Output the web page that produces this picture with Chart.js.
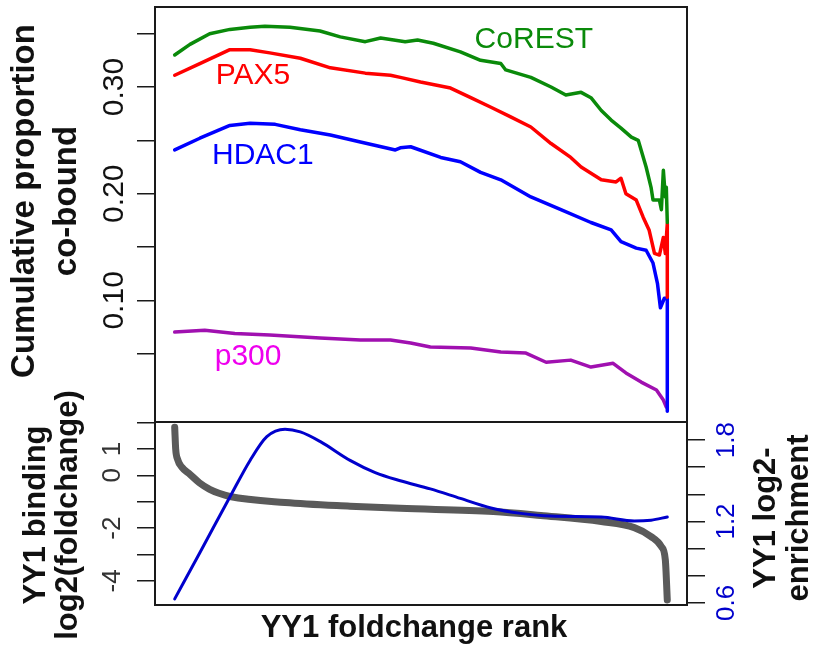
<!DOCTYPE html>
<html>
<head>
<meta charset="utf-8">
<script src="https://cdn.jsdelivr.net/npm/chart.js@4/dist/chart.umd.min.js"></script>
<style>
  html, body { margin: 0; padding: 0; background: #fff; }
  #wrap { position: relative; width: 814px; height: 651px; }
  #wrap canvas { position: absolute; left: 0; top: 0; }
</style>
</head>
<body>
<div id="wrap">
  <canvas id="topChart" width="814" height="651"></canvas>
  <canvas id="botChart" width="814" height="651"></canvas>
</div>
<script>
'use strict';

/* ---- top panel: cumulative proportion co-bound vs YY1 foldchange rank (0..1) ---- */
const COREST_RANK = [0, 0.031, 0.071, 0.112, 0.153, 0.183, 0.234, 0.295, 0.336, 0.387, 0.418, 0.468, 0.493, 0.525, 0.580, 0.621, 0.662, 0.672, 0.723, 0.764, 0.794, 0.825, 0.845, 0.866, 0.886, 0.906, 0.927, 0.941, 0.957, 0.967, 0.971, 0.984, 0.988, 0.992, 0.996, 0.998, 1.0];
const COREST_VAL  = [0.330, 0.340, 0.350, 0.354, 0.356, 0.357, 0.356, 0.3525, 0.347, 0.3425, 0.346, 0.3425, 0.344, 0.341, 0.333, 0.325, 0.322, 0.316, 0.309, 0.300, 0.2925, 0.295, 0.290, 0.278, 0.269, 0.2615, 0.253, 0.250, 0.225, 0.206, 0.194, 0.194, 0.185, 0.222, 0.197, 0.206, 0.173];

const PAX5_RANK = [0, 0.051, 0.112, 0.153, 0.193, 0.255, 0.316, 0.387, 0.438, 0.458, 0.499, 0.560, 0.601, 0.642, 0.682, 0.723, 0.764, 0.804, 0.825, 0.866, 0.896, 0.906, 0.916, 0.937, 0.951, 0.963, 0.974, 0.984, 0.992, 0.996, 1.0, 1.0];
const PAX5_VAL  = [0.311, 0.322, 0.335, 0.335, 0.332, 0.327, 0.318, 0.313, 0.311, 0.309, 0.3047, 0.299, 0.290, 0.281, 0.272, 0.2625, 0.247, 0.234, 0.225, 0.213, 0.211, 0.2145, 0.200, 0.194, 0.178, 0.166, 0.144, 0.1425, 0.159, 0.144, 0.172, 0.103];

const HDAC1_RANK = [0, 0.051, 0.112, 0.153, 0.204, 0.255, 0.316, 0.377, 0.448, 0.458, 0.479, 0.540, 0.580, 0.621, 0.662, 0.723, 0.784, 0.845, 0.886, 0.906, 0.937, 0.957, 0.971, 0.980, 0.986, 0.994, 1.0, 1.0];
const HDAC1_VAL  = [0.241, 0.252, 0.264, 0.266, 0.265, 0.260, 0.255, 0.2485, 0.241, 0.243, 0.244, 0.234, 0.230, 0.220, 0.213, 0.197, 0.185, 0.173, 0.166, 0.155, 0.149, 0.147, 0.135, 0.116, 0.093, 0.102, 0.102, -0.004];

const P300_RANK = [0, 0.061, 0.122, 0.193, 0.295, 0.377, 0.438, 0.479, 0.519, 0.601, 0.662, 0.713, 0.754, 0.804, 0.845, 0.890, 0.916, 0.947, 0.978, 0.992, 0.998];
const P300_VAL  = [0.0703, 0.072, 0.069, 0.0675, 0.0647, 0.0628, 0.0628, 0.060, 0.0563, 0.0553, 0.0516, 0.0506, 0.042, 0.044, 0.0375, 0.041, 0.032, 0.0234, 0.016, 0.0066, 0.0];

/* ---- bottom panel ---- */
const FC_RANK = [0, 0.002, 0.006, 0.014, 0.031, 0.050, 0.071, 0.090, 0.112, 0.224, 0.356, 0.458, 0.647, 0.743, 0.866, 0.933, 0.967, 0.988, 0.996, 1.0];
const FC_VAL  = [1.82, 1.00, 0.60, 0.32, 0.04, -0.28, -0.53, -0.68, -0.80, -1.03, -1.17, -1.25, -1.37, -1.52, -1.75, -1.98, -2.32, -2.70, -3.20, -4.72];

const ENR_RANK = [0, 0.051, 0.112, 0.153, 0.187, 0.224, 0.255, 0.295, 0.356, 0.407, 0.458, 0.519, 0.580, 0.642, 0.703, 0.764, 0.866, 0.933, 0.967, 1.0];
const ENR_VAL  = [0.63, 0.97, 1.38, 1.65, 1.825, 1.88, 1.86, 1.79, 1.65, 1.56, 1.50, 1.44, 1.37, 1.30, 1.26, 1.24, 1.233, 1.204, 1.21, 1.233];

/* ---- axis ticks ---- */
const TOP_TICKS = [0.05, 0.10, 0.15, 0.20, 0.25, 0.30, 0.35];
const TOP_LABELED = [0.10, 0.20, 0.30];
const LEFT_TICKS = [-4, -3, -2, -1, 0, 1, 2];
const LEFT_LABELED = [-4, -2, 0, 1];
const RIGHT_TICKS = [0.6, 0.8, 1.0, 1.2, 1.4, 1.6, 1.8];
const RIGHT_LABELED = [0.6, 1.2, 1.8];

const FONT = "'Liberation Sans', Arial, Helvetica, sans-serif";

function pts(xs, ys) {
  return xs.map((x, i) => ({ x: x, y: ys[i] }));
}
function pick(list, v) {
  return list.some(t => Math.abs(t - v) < 1e-9);
}

/* box around plot area */
const boxPlugin = {
  id: 'box',
  afterDraw(chart) {
    const a = chart.chartArea, ctx = chart.ctx;
    ctx.save();
    ctx.strokeStyle = '#1a1a1a';
    ctx.lineWidth = 2;
    ctx.strokeRect(a.left, a.top, a.right - a.left, a.bottom - a.top);
    ctx.restore();
  }
};

/* free text: rotated axis titles and in-plot series names */
const textPlugin = {
  id: 'texts',
  afterDraw(chart, args, opts) {
    const ctx = chart.ctx;
    (opts.items || []).forEach(t => {
      let x = t.x, y = t.y;
      if (t.data) {
        x = chart.scales.x.getPixelForValue(t.data[0]);
        y = chart.scales.y.getPixelForValue(t.data[1]);
      }
      ctx.save();
      ctx.translate(x, y);
      if (t.rotate) ctx.rotate(-Math.PI / 2);
      ctx.font = t.font;
      ctx.fillStyle = t.color;
      ctx.textAlign = 'center';
      ctx.textBaseline = 'middle';
      const n = t.lines.length;
      t.lines.forEach((line, i) => ctx.fillText(line, 0, (i - (n - 1) / 2) * (t.lineHeight || 0)));
      ctx.restore();
    });
  }
};

function fixWidth(w) {
  return function (scale) {
    scale.width = w;
    scale.paddingTop = 0;
    scale.paddingBottom = 0;
  };
}

/* ---------------- top chart ---------------- */
new Chart(document.getElementById('topChart'), {
  type: 'line',
  data: {
    datasets: [
      { label: 'CoREST', data: pts(COREST_RANK, COREST_VAL), borderColor: '#0a8a0a', borderWidth: 3.5 },
      { label: 'PAX5', data: pts(PAX5_RANK, PAX5_VAL), borderColor: '#ff0000', borderWidth: 3.5 },
      { label: 'HDAC1', data: pts(HDAC1_RANK, HDAC1_VAL), borderColor: '#0000ff', borderWidth: 3.5 },
      { label: 'p300', data: pts(P300_RANK, P300_VAL), borderColor: '#a010b0', borderWidth: 3.5 }
    ]
  },
  options: {
    responsive: false,
    devicePixelRatio: 1,
    animation: false,
    elements: { point: { radius: 0 }, line: { tension: 0, borderJoinStyle: 'round', borderCapStyle: 'round' } },
    layout: { padding: { left: 0, top: 7, right: 127, bottom: 229 } },
    plugins: {
      legend: { display: false },
      tooltip: { enabled: false },
      texts: {
        items: [
          { lines: ['Cumulative proportion', 'co-bound'], x: 46, y: 201, rotate: true, lineHeight: 42, font: 'bold 33px ' + FONT, color: '#111' },
          { lines: ['CoREST'], data: [0.729, 0.344], font: '30px ' + FONT, color: '#0a8a0a' },
          { lines: ['PAX5'], data: [0.159, 0.311], font: '30px ' + FONT, color: '#ff0000' },
          { lines: ['HDAC1'], data: [0.179, 0.236], font: '30px ' + FONT, color: '#0000ff' },
          { lines: ['p300'], data: [0.149, 0.047], font: '30px ' + FONT, color: '#ee00ee' }
        ]
      }
    },
    scales: {
      x: { type: 'linear', min: -0.04, max: 1.04, display: false },
      y: {
        type: 'linear',
        position: 'left',
        min: -0.014,
        max: 0.375,
        afterBuildTicks: s => { s.ticks = TOP_TICKS.map(v => ({ value: v })); },
        afterFit: fixWidth(155),
        border: { display: false },
        grid: { drawOnChartArea: false, drawTicks: true, tickLength: 18, color: '#1a1a1a', lineWidth: 1.5 },
        ticks: {
          autoSkip: false,
          minRotation: 90,
          maxRotation: 90,
          crossAlign: 'center',
          padding: -7,
          color: '#111',
          font: { family: FONT, size: 30 },
          callback: v => pick(TOP_LABELED, v) ? v.toFixed(2) : ''
        }
      }
    }
  },
  plugins: [boxPlugin, textPlugin]
});

/* ---------------- bottom chart ---------------- */
new Chart(document.getElementById('botChart'), {
  type: 'line',
  data: {
    datasets: [
      { label: 'YY1 log2-enrichment', data: pts(ENR_RANK, ENR_VAL), yAxisID: 'y2', borderColor: '#0000cc', borderWidth: 3, cubicInterpolationMode: 'monotone' },
      { label: 'YY1 log2(foldchange)', data: pts(FC_RANK, FC_VAL), yAxisID: 'y', borderColor: '#5a5a5a', borderWidth: 7, cubicInterpolationMode: 'monotone' }
    ]
  },
  options: {
    responsive: false,
    devicePixelRatio: 1,
    animation: false,
    elements: { point: { radius: 0 }, line: { borderJoinStyle: 'round', borderCapStyle: 'round' } },
    layout: { padding: { left: 0, top: 422, right: 0, bottom: 0 } },
    plugins: {
      legend: { display: false },
      tooltip: { enabled: false },
      texts: {
        items: [
          { lines: ['YY1 binding', 'log2(foldchange)'], x: 52, y: 515, rotate: true, lineHeight: 32, font: 'bold 31px ' + FONT, color: '#111' },
          { lines: ['YY1 log2-', 'enrichment'], x: 783, y: 518, rotate: true, lineHeight: 33, font: 'bold 31px ' + FONT, color: '#111' },
          { lines: ['YY1 foldchange rank'], x: 414, y: 628, font: 'bold 31px ' + FONT, color: '#111' }
        ]
      }
    },
    scales: {
      x: {
        type: 'linear', min: -0.04, max: 1.04,
        grid: { display: false },
        border: { display: false },
        ticks: { display: false },
        afterFit: s => { s.height = 46; }
      },
      y: {
        type: 'linear',
        position: 'left',
        min: -4.91,
        max: 2.02,
        afterBuildTicks: s => { s.ticks = LEFT_TICKS.map(v => ({ value: v })); },
        afterFit: fixWidth(155),
        border: { display: false },
        grid: { drawOnChartArea: false, drawTicks: true, tickLength: 18, color: '#1a1a1a', lineWidth: 1.5 },
        ticks: {
          autoSkip: false,
          minRotation: 90,
          maxRotation: 90,
          crossAlign: 'center',
          padding: 13,
          color: '#333',
          font: { family: FONT, size: 26 },
          callback: v => pick(LEFT_LABELED, v) ? String(v) : ''
        }
      },
      y2: {
        type: 'linear',
        position: 'right',
        min: 0.585,
        max: 1.933,
        afterBuildTicks: s => { s.ticks = RIGHT_TICKS.map(v => ({ value: v })); },
        afterFit: fixWidth(127),
        border: { display: false },
        grid: { drawOnChartArea: false, drawTicks: true, tickLength: 18, color: '#1a1a1a', lineWidth: 1.5 },
        ticks: {
          autoSkip: false,
          minRotation: 90,
          maxRotation: 90,
          crossAlign: 'center',
          padding: 4,
          color: '#0000cc',
          font: { family: FONT, size: 26 },
          callback: v => pick(RIGHT_LABELED, v) ? v.toFixed(1) : ''
        }
      }
    }
  },
  plugins: [boxPlugin, textPlugin]
});
</script>
</body>
</html>
